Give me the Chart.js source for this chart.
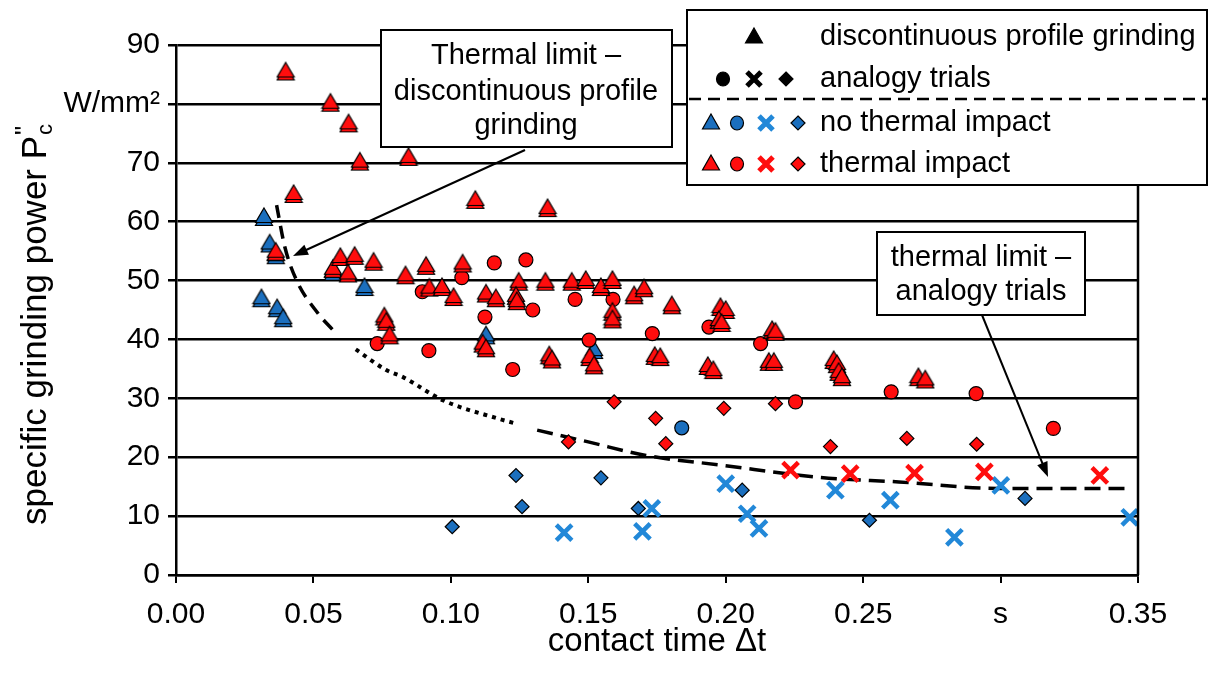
<!DOCTYPE html>
<html>
<head>
<meta charset="utf-8">
<script src="https://cdn.jsdelivr.net/npm/chart.js@4.4.0/dist/chart.umd.min.js"></script>
<style>
  html, body { margin: 0; padding: 0; background: #fff; }
  #wrap { width: 1215px; height: 677px; }
</style>
</head>
<body>
<div id="wrap"><canvas id="chart" width="1215" height="677"></canvas></div>
<script>
// ── Data (contact time in s, specific grinding power in W/mm²) ──
const xTickValues = [0, 0.05, 0.10, 0.15, 0.20, 0.25, 0.30, 0.35];
const xTickLabels = ['0.00', '0.05', '0.10', '0.15', '0.20', '0.25', 's', '0.35'];
const yTickValues = [0, 10, 20, 30, 40, 50, 60, 70, 80, 90];
const yTickLabels = ['0', '10', '20', '30', '40', '50', '60', '70', 'W/mm²', '90'];

// discontinuous profile grinding
const redTriangles = [
  [0.0399, 85.5], [0.0562, 80.2], [0.0628, 76.7], [0.0669, 70.2], [0.0846, 71.0],
  [0.0428, 64.7], [0.1089, 63.7], [0.1352, 62.3], [0.0363, 54.9], [0.0571, 52.0],
  [0.0598, 54.0], [0.0650, 54.2], [0.0719, 53.2], [0.0626, 51.2], [0.0835, 50.9],
  [0.0910, 52.5], [0.1043, 52.9], [0.0922, 48.8], [0.0968, 48.9], [0.1010, 47.2],
  [0.1128, 47.8], [0.1164, 47.0], [0.1116, 39.3], [0.1128, 38.5], [0.0758, 43.9],
  [0.0765, 43.0], [0.0777, 40.7], [0.1247, 49.8], [0.1237, 47.4], [0.1240, 46.5],
  [0.1344, 49.8], [0.1440, 49.8], [0.1491, 50.1], [0.1546, 48.9], [0.1588, 50.1],
  [0.1588, 44.7], [0.1588, 43.4], [0.1667, 47.5], [0.1703, 48.7], [0.1804, 45.8],
  [0.1505, 37.0], [0.1521, 35.6], [0.1358, 37.3], [0.1368, 36.6], [0.1742, 37.2],
  [0.1762, 37.0], [0.1935, 35.5], [0.1955, 34.8], [0.1981, 45.5], [0.2000, 45.0],
  [0.1975, 43.3], [0.1985, 42.8], [0.2169, 41.6], [0.2181, 41.3], [0.2157, 36.2],
  [0.2175, 36.2], [0.2393, 36.5], [0.2405, 35.8], [0.2411, 34.5], [0.2423, 33.6],
  [0.2701, 33.6], [0.2726, 33.2]
];
const blueTriangles = [
  [0.0320, 60.8], [0.0341, 56.3], [0.0363, 54.3], [0.0311, 47.0], [0.0368, 45.3],
  [0.0390, 43.6], [0.0571, 51.5], [0.0686, 48.9], [0.1128, 40.7], [0.1521, 38.2]
];

// analogy trials
const redCircles = [
  [0.0732, 39.3], [0.0896, 48.1], [0.0920, 38.1], [0.1040, 50.5], [0.1158, 53.0],
  [0.1124, 43.8], [0.1273, 53.5], [0.1298, 45.0], [0.1225, 34.9], [0.1452, 46.8],
  [0.1590, 46.8], [0.1503, 39.9], [0.1733, 41.0], [0.1939, 42.1], [0.2127, 39.3],
  [0.2254, 29.4], [0.2602, 31.1], [0.2911, 30.8], [0.3192, 24.9]
];
const blueCircles = [[0.1840, 25.0]];
const redDiamonds = [
  [0.1428, 22.6], [0.1594, 29.4], [0.1745, 26.6], [0.1782, 22.3], [0.1993, 28.3],
  [0.2181, 29.1], [0.2381, 21.8], [0.2659, 23.2], [0.2913, 22.2]
];
const blueDiamonds = [
  [0.1005, 8.2], [0.1237, 16.9], [0.1546, 16.5], [0.1259, 11.6], [0.1682, 11.3],
  [0.2060, 14.4], [0.2523, 9.3], [0.3089, 13.0]
];
const redCrosses = [
  [0.2236, 17.8], [0.2453, 17.2], [0.2687, 17.3], [0.2941, 17.5], [0.3361, 16.9]
];
const blueCrosses = [
  [0.1412, 7.2], [0.1697, 7.4], [0.1731, 11.3], [0.2000, 15.5], [0.2078, 10.4],
  [0.2121, 7.9], [0.2399, 14.4], [0.2599, 12.7], [0.2832, 6.4], [0.3001, 15.2],
  [0.3470, 9.8]
];

// thermal limits
const limitProfile = [
  [0.0366, 62.8], [0.0396, 55.7], [0.0438, 50.1], [0.0517, 44.4], [0.0571, 41.6]
];
const limitGap = [
  [0.0654, 38.3], [0.0765, 34.8], [0.0826, 33.6], [0.0970, 29.7], [0.1176, 26.5],
  [0.1230, 25.8]
];
const limitAnalogy = [
  [0.1314, 24.6], [0.1500, 22.6], [0.1710, 20.3], [0.1994, 18.6], [0.2338, 16.6],
  [0.2630, 15.8], [0.2990, 14.7], [0.3457, 14.7]
];

/* ── Styles ─────────────────────────────────────────── */
const RED  = '#ff0d0d';
const BLUE = '#1b6fbe';
const BLUE_X = '#2288d8';
const FONT = '"Liberation Sans", Arial, sans-serif';

const pts = arr => arr.map(p => ({ x: p[0], y: p[1] }));

// triangle with the slight doubled edge seen in the original
function triangleSprite(fill) {
  const c = document.createElement('canvas');
  c.width = 20; c.height = 22;
  const g = c.getContext('2d');
  g.lineWidth = 1.2;
  g.strokeStyle = '#000';
  g.fillStyle = fill;
  [3, 0].forEach(off => {
    g.beginPath();
    g.moveTo(10, 2 + off);
    g.lineTo(18.5, 16.5 + off);
    g.lineTo(1.5, 16.5 + off);
    g.closePath();
    g.fill(); g.stroke();
  });
  return c;
}

function markerSet(label, data, style, color, extra) {
  return Object.assign({
    label, data: pts(data), pointStyle: style,
    backgroundColor: color, pointBackgroundColor: color,
    pointBorderColor: '#000', pointBorderWidth: 1.2,
    pointRadius: 7, pointHoverRadius: 7, showLine: false
  }, extra || {});
}

function lineSet(label, data, dash, width) {
  return {
    label, data: pts(data), showLine: true, pointRadius: 0,
    borderColor: '#000', borderWidth: width, borderDash: dash,
    cubicInterpolationMode: 'monotone', fill: false
  };
}

/* ── Overlay: titles, notes, legend ─────────────────── */
function arrow(ctx, x1, y1, x2, y2) {
  const a = Math.atan2(y2 - y1, x2 - x1);
  const L = 15, W = 5.5;
  ctx.beginPath();
  ctx.moveTo(x1, y1);
  ctx.lineTo(x2 - Math.cos(a) * L * 0.8, y2 - Math.sin(a) * L * 0.8);
  ctx.stroke();
  ctx.beginPath();
  ctx.moveTo(x2, y2);
  ctx.lineTo(x2 - Math.cos(a) * L + Math.sin(a) * W, y2 - Math.sin(a) * L - Math.cos(a) * W);
  ctx.lineTo(x2 - Math.cos(a) * L - Math.sin(a) * W, y2 - Math.sin(a) * L + Math.cos(a) * W);
  ctx.closePath();
  ctx.fill();
}

function textBox(ctx, x, y, w, h, lines, cx, ys) {
  ctx.fillStyle = '#fff';
  ctx.fillRect(x, y, w, h);
  ctx.lineWidth = 2;
  ctx.strokeStyle = '#000';
  ctx.strokeRect(x, y, w, h);
  ctx.fillStyle = '#000';
  ctx.font = '29px ' + FONT;
  ctx.textAlign = 'center';
  ctx.textBaseline = 'middle';
  lines.forEach((t, i) => ctx.fillText(t, cx, ys[i]));
}

function legendMark(ctx, type, x, y, color) {
  ctx.save();
  ctx.fillStyle = color;
  ctx.strokeStyle = '#000';
  ctx.lineWidth = 1.2;
  ctx.beginPath();
  if (type === 'tri') {
    ctx.moveTo(x, y - 9); ctx.lineTo(x + 8.5, y + 6); ctx.lineTo(x - 8.5, y + 6); ctx.closePath();
    ctx.fill(); ctx.stroke();
  } else if (type === 'circle') {
    ctx.ellipse(x, y, 6.5, 7, 0, 0, Math.PI * 2);
    ctx.fill(); ctx.stroke();
  } else if (type === 'dia') {
    ctx.moveTo(x, y - 7); ctx.lineTo(x + 7, y); ctx.lineTo(x, y + 7); ctx.lineTo(x - 7, y); ctx.closePath();
    ctx.fill(); ctx.stroke();
  } else if (type === 'x') {
    ctx.strokeStyle = color;
    ctx.lineWidth = 5;
    ctx.moveTo(x - 7, y - 7); ctx.lineTo(x + 7, y + 7);
    ctx.moveTo(x + 7, y - 7); ctx.lineTo(x - 7, y + 7);
    ctx.stroke();
  }
  ctx.restore();
}

const overlay = {
  id: 'overlay',
  afterDraw(chart) {
    const ctx = chart.ctx;
    const a = chart.chartArea;
    ctx.save();

    // right frame line
    ctx.strokeStyle = '#000';
    ctx.lineWidth = 2.5;
    ctx.beginPath();
    ctx.moveTo(a.right, a.top);
    ctx.lineTo(a.right, a.bottom);
    ctx.stroke();

    // axis titles
    ctx.fillStyle = '#000';
    ctx.font = '33px ' + FONT;
    ctx.textAlign = 'center';
    ctx.textBaseline = 'middle';
    ctx.fillText('contact time Δt', 657, 642);

    ctx.save();
    ctx.translate(46, 525);
    ctx.rotate(-Math.PI / 2);
    ctx.textAlign = 'left';
    ctx.textBaseline = 'alphabetic';
    ctx.font = '35px ' + FONT;
    const main = 'specific grinding power P';
    ctx.fillText(main, 0, 0);
    const w = ctx.measureText(main).width;
    ctx.font = '22px ' + FONT;
    ctx.fillText('c', w + 1, 6);
    ctx.font = '26px ' + FONT;
    ctx.fillText('"', w + 1, -13);
    ctx.restore();

    // thermal limit notes
    ctx.lineWidth = 2;
    ctx.strokeStyle = '#000';
    ctx.fillStyle = '#000';
    arrow(ctx, 525, 150, 293, 256);
    arrow(ctx, 982, 315, 1048, 477);
    textBox(ctx, 381, 30, 291, 117,
      ['Thermal limit –', 'discontinuous profile', 'grinding'], 526, [56, 92, 126]);
    textBox(ctx, 877, 232, 208, 83,
      ['thermal limit –', 'analogy trials'], 981, [258, 292]);

    // legend
    ctx.fillStyle = '#fff';
    ctx.fillRect(687, 10, 520, 175);
    ctx.lineWidth = 2;
    ctx.strokeStyle = '#000';
    ctx.strokeRect(687, 10, 520, 175);
    ctx.save();
    ctx.setLineDash([12, 7]);
    ctx.lineWidth = 2.5;
    ctx.beginPath();
    ctx.moveTo(689, 99);
    ctx.lineTo(1207, 99);
    ctx.stroke();
    ctx.restore();

    legendMark(ctx, 'tri', 754, 37, '#000');
    legendMark(ctx, 'circle', 723, 79, '#000');
    legendMark(ctx, 'x', 754, 79, '#000');
    legendMark(ctx, 'dia', 786, 79, '#000');
    legendMark(ctx, 'tri', 711, 123, BLUE);
    legendMark(ctx, 'circle', 737, 123, BLUE);
    legendMark(ctx, 'x', 766, 123, BLUE_X);
    legendMark(ctx, 'dia', 798, 123, BLUE);
    legendMark(ctx, 'tri', 711, 164, RED);
    legendMark(ctx, 'circle', 737, 164, RED);
    legendMark(ctx, 'x', 766, 164, RED);
    legendMark(ctx, 'dia', 798, 164, RED);

    ctx.fillStyle = '#000';
    ctx.font = '29px ' + FONT;
    ctx.textAlign = 'left';
    ctx.textBaseline = 'middle';
    ctx.fillText('discontinuous profile grinding', 820, 37);
    ctx.fillText('analogy trials', 820, 79);
    ctx.fillText('no thermal impact', 820, 123);
    ctx.fillText('thermal impact', 820, 164);

    ctx.restore();
  }
};

/* ── Chart ──────────────────────────────────────────── */
const redTri = triangleSprite(RED);
const blueTri = triangleSprite(BLUE);

new Chart(document.getElementById('chart'), {
  type: 'scatter',
  data: {
    datasets: [
      markerSet('thermal impact – profile grinding', redTriangles, redTri, RED, { pointRadius: 8 }),
      markerSet('thermal impact – circle', redCircles, 'circle', RED),
      markerSet('thermal impact – diamond', redDiamonds, 'rectRot', RED, { pointRadius: 7 }),
      markerSet('thermal impact – cross', redCrosses, 'crossRot', RED,
        { pointBorderColor: RED, pointBorderWidth: 4.5, pointRadius: 11 }),
      markerSet('no thermal impact – cross', blueCrosses, 'crossRot', BLUE_X,
        { pointBorderColor: BLUE_X, pointBorderWidth: 4.5, pointRadius: 11 }),
      markerSet('no thermal impact – diamond', blueDiamonds, 'rectRot', BLUE, { pointRadius: 7 }),
      markerSet('no thermal impact – circle', blueCircles, 'circle', BLUE),
      markerSet('no thermal impact – profile grinding', blueTriangles, blueTri, BLUE, { pointRadius: 8 }),
      lineSet('thermal limit – profile grinding', limitProfile, [13, 8], 3.5),
      lineSet('thermal limit – transition', limitGap, [4, 5], 4),
      lineSet('thermal limit – analogy trials', limitAnalogy, [16, 8], 3.5)
    ]
  },
  options: {
    responsive: false,
    animation: false,
    devicePixelRatio: 1,
    layout: { padding: { top: 45, right: 77, left: 0, bottom: 0 } },
    plugins: {
      legend: { display: false },
      tooltip: { enabled: false }
    },
    scales: {
      x: {
        type: 'linear',
        min: 0, max: 0.35,
        afterBuildTicks: s => { s.ticks = xTickValues.map(v => ({ value: v })); },
        afterFit: s => { s.height = 102; },
        ticks: {
          color: '#000',
          font: { family: FONT, size: 30 },
          padding: 14,
          maxRotation: 0,
          callback: (v, i) => xTickLabels[i]
        },
        grid: { drawOnChartArea: false, drawTicks: true, tickLength: 8, color: '#000', lineWidth: 2 },
        border: { display: true, color: '#000', width: 2.5 }
      },
      y: {
        type: 'linear',
        min: 0, max: 90,
        afterBuildTicks: s => { s.ticks = yTickValues.map(v => ({ value: v })); },
        afterFit: s => { s.width = 176; },
        ticks: {
          color: '#000',
          font: { family: FONT, size: 30 },
          padding: 8,
          callback: (v, i) => yTickLabels[i]
        },
        grid: { color: '#000', lineWidth: 2.5, tickLength: 8 },
        border: { display: true, color: '#000', width: 2.5 }
      }
    }
  },
  plugins: [overlay]
});
</script>
</body>
</html>
